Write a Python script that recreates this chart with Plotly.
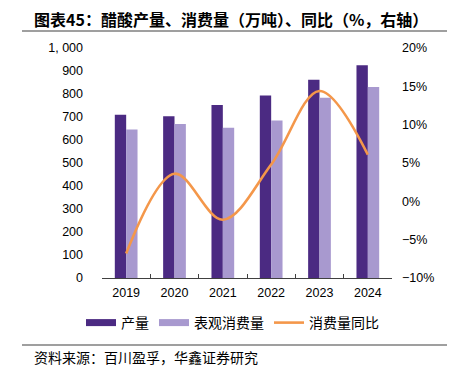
import plotly.graph_objects as go

years = ["2019", "2020", "2021", "2022", "2023", "2024"]
production = [710, 703, 752, 794, 862, 925]
consumption = [646, 670, 653, 685, 784, 830]
consumption_yoy = [-6.8, 3.6, -2.4, 4.8, 14.4, 6.1]

left_ticks = [0, 100, 200, 300, 400, 500, 600, 700, 800, 900, 1000]
left_ticktext = ["0", "100", "200", "300", "400", "500", "600", "700", "800", "900", "1, 000"]
right_ticks = [-10, -5, 0, 5, 10, 15, 20]
right_ticktext = ["−10%", "−5%", "0%", "5%", "10%", "15%", "20%"]

c_dark = "#4B2A82"
c_light = "#A899CF"
c_orange = "#F4974A"
cjk = "Noto Sans CJK SC"
latin = "Liberation Sans"

fig = go.Figure()
fig.add_trace(go.Bar(x=years, y=production, name="产量", marker=dict(color=c_dark, line=dict(width=0)),
                     showlegend=False, offsetgroup="a"))
fig.add_trace(go.Bar(x=years, y=consumption, name="表观消费量", marker=dict(color=c_light, line=dict(width=0)),
                     showlegend=False, offsetgroup="b"))
fig.add_trace(go.Scatter(x=years, y=consumption_yoy, name="消费量同比", yaxis="y2", mode="lines",
                         line=dict(color=c_orange, width=2.6, shape="spline", smoothing=1.0),
                         showlegend=False))
# legend entries
fig.add_trace(go.Scatter(x=[None], y=[None], mode="lines", name="产量", line=dict(color=c_dark, width=7)))
fig.add_trace(go.Scatter(x=[None], y=[None], mode="lines", name="表观消费量", line=dict(color=c_light, width=7)))
fig.add_trace(go.Scatter(x=[None], y=[None], mode="lines", name="消费量同比", line=dict(color=c_orange, width=2.6)))

OFF = 8  # page body margin
W, H = 457 - OFF, 371 - OFF
L, T = 102 - OFF, 48 - OFF
R = W - (392 - OFF)
B = H - (278 - OFF)
pw, ph = W - L - R, H - T - B

def px(x):
    return (x - OFF - L) / pw

def py(y):
    return (H - B - (y - OFF)) / ph

fig.update_layout(
    width=W, height=H,
    margin=dict(l=L, r=R, t=T, b=B, pad=0),
    paper_bgcolor="white", plot_bgcolor="white",
    barmode="group", bargap=0.53, bargroupgap=0,
    font=dict(family=latin, size=12.5, color="#000000"),
    xaxis=dict(type="category", showgrid=False, showline=True, linecolor="#404040", linewidth=1,
               ticks="inside", ticklen=4, tickcolor="#404040", tickson="boundaries",
               tickfont=dict(family=latin, size=12.5, color="#000"), ticklabelstandoff=3),
    yaxis=dict(range=[0, 1000], tickvals=left_ticks, ticktext=left_ticktext, showgrid=False,
               zeroline=False, showline=False, ticks="", ticklabelstandoff=18,
               tickfont=dict(family=latin, size=12.5, color="#000")),
    yaxis2=dict(range=[-10, 20], tickvals=right_ticks, ticktext=right_ticktext, overlaying="y",
                side="right", showgrid=False, zeroline=False, showline=False, ticks="",
                ticklabelstandoff=9, tickfont=dict(family=latin, size=12.5, color="#000")),
    legend=dict(orientation="h", x=px(81), y=py(323), xanchor="left", yanchor="middle",
                font=dict(family=cjk, size=14, color="#000"), bgcolor="rgba(0,0,0,0)",
                itemwidth=30, tracegroupgap=0),
    annotations=[
        dict(text="<b>图表45：醋酸产量、消费量（万吨）、同比（%，右轴）</b>", xref="paper", yref="paper",
             x=px(32), y=py(19), xanchor="left", yanchor="middle", showarrow=False,
             font=dict(family=cjk, size=16, color="#000")),
        dict(text="资料来源：百川盈孚，华鑫证券研究", xref="paper", yref="paper",
             x=px(32), y=py(357), xanchor="left", yanchor="middle", showarrow=False,
             font=dict(family=cjk, size=14, color="#000")),
    ],
    shapes=[
        dict(type="line", xref="paper", yref="paper", x0=px(22), x1=px(447), y0=py(31), y1=py(31),
             line=dict(color="#404040", width=1.2)),
        dict(type="line", xref="paper", yref="paper", x0=px(22), x1=px(447), y0=py(345), y1=py(345),
             line=dict(color="#404040", width=1.2)),
    ],
)

fig.write_html("out.html")
